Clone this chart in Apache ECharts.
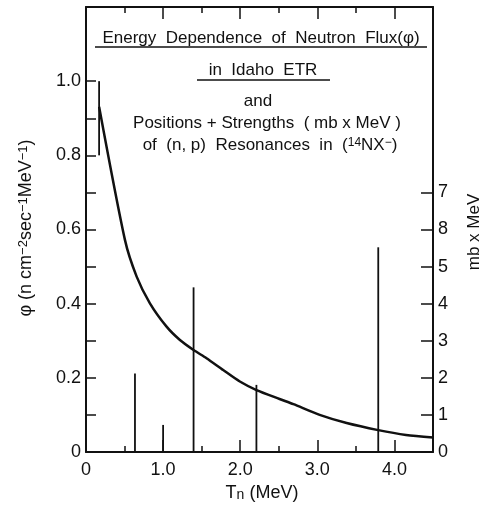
<!DOCTYPE html>
<html>
<head>
<meta charset="utf-8">
<script src="https://cdn.jsdelivr.net/npm/echarts@6/dist/echarts.min.js"></script>
<style>html,body{margin:0;padding:0;background:#fff;}#c{width:484px;height:508px;}</style>
</head>
<body>
<div id="c"></div>
<script>
// ---- data ----
const fluxEnergy = [0.17, 0.505, 0.657, 0.829, 1.045, 1.218, 1.395, 1.563, 1.779, 1.995, 2.211, 2.51, 2.69, 3.03, 3.38, 3.79, 4.15, 4.5];
const fluxValue  = [0.931, 0.572, 0.473, 0.401, 0.338, 0.302, 0.275, 0.253, 0.221, 0.190, 0.167, 0.143, 0.129, 0.100, 0.078, 0.059, 0.046, 0.039];
const markerEnergy = [0.17, 0.17];
const markerFlux = [0.8, 1.0];
const resonanceEnergy = [0.635, 1.0, 1.395, 2.21, 3.79];
const resonanceStrength = [2.12, 0.73, 4.44, 1.81, 5.52];
const xLabelValues = [0, 1, 2, 3, 4];
const xMajorTicks = [1, 2, 3, 4];
const xMinorTicks = [0.5, 1.5, 2.5, 3.5];
const leftLabelValues = [0, 0.2, 0.4, 0.6, 0.8, 1.0];
const leftTickValues = [0.1, 0.2, 0.3, 0.4, 0.5, 0.6, 0.7, 0.8, 0.9, 1.0];
const rightTickValues = [0, 1, 2, 3, 4, 5, 6, 7];
const rightTickLabels = ['0', '1', '2', '3', '4', '5', '8', '7'];

const FONT = 'Liberation Sans';
const INK = '#111';
const chart = echarts.init(document.getElementById('c'));

function xAxisDef(pos, ticks, len, withLine, withLabel) {
  return {
    type: 'value', position: pos, min: 0, max: 4.5,
    axisLine: { show: withLine, onZero: false, lineStyle: { color: INK, width: 2 } },
    axisTick: { show: true, inside: true, length: len, customValues: ticks, lineStyle: { color: INK, width: 1.5 } },
    axisLabel: withLabel ? {
      show: true, customValues: xLabelValues, margin: 9, color: INK, fontFamily: FONT, fontSize: 18,
      formatter: v => v === 0 ? '0' : v.toFixed(1)
    } : { show: false },
    splitLine: { show: false }
  };
}

const option = {
  animation: false,
  backgroundColor: '#fff',
  textStyle: { fontFamily: FONT, color: INK },
  grid: { left: 86, right: 51, top: 7, bottom: 56, containLabel: false },
  xAxis: [
    xAxisDef('bottom', xMajorTicks, 12, true, true),
    xAxisDef('top', xMajorTicks, 12, true, false),
    xAxisDef('bottom', xMinorTicks, 6, false, false),
    xAxisDef('top', xMinorTicks, 6, false, false)
  ],
  yAxis: [
    {
      type: 'value', position: 'left', min: 0, max: 1.2,
      axisLine: { show: true, onZero: false, lineStyle: { color: INK, width: 2 } },
      axisTick: { show: true, inside: true, length: 10, customValues: leftTickValues, lineStyle: { color: INK, width: 1.5 } },
      axisLabel: { customValues: leftLabelValues, margin: 5, color: INK, fontFamily: FONT, fontSize: 18,
        formatter: v => v === 0 ? '0' : v.toFixed(1) },
      splitLine: { show: false }
    },
    {
      type: 'value', position: 'right', min: 0, max: 12,
      axisLine: { show: true, onZero: false, lineStyle: { color: INK, width: 2 } },
      axisTick: { show: true, inside: true, length: 12, customValues: rightTickValues, lineStyle: { color: INK, width: 1.5 } },
      axisLabel: { customValues: rightTickValues, margin: 5, color: INK, fontFamily: FONT, fontSize: 18,
        formatter: v => rightTickLabels[Math.round(v)] },
      splitLine: { show: false }
    }
  ],
  series: [
    {
      type: 'line', xAxisIndex: 0, yAxisIndex: 0, symbol: 'none', smooth: 0.25,
      lineStyle: { color: INK, width: 2.5 },
      data: fluxEnergy.map((x, i) => [x, fluxValue[i]])
    },
    {
      type: 'line', xAxisIndex: 0, yAxisIndex: 0, symbol: 'none',
      lineStyle: { color: INK, width: 1.8 },
      data: markerEnergy.map((x, i) => [x, markerFlux[i]])
    },
    {
      type: 'custom', xAxisIndex: 0, yAxisIndex: 1,
      encode: { x: 0, y: 1 },
      data: resonanceEnergy.map((x, i) => [x, resonanceStrength[i]]),
      renderItem: function (params, api) {
        const p0 = api.coord([api.value(0), 0]);
        const p1 = api.coord([api.value(0), api.value(1)]);
        return { type: 'line', shape: { x1: p0[0], y1: p0[1], x2: p1[0], y2: p1[1] },
          style: { stroke: INK, lineWidth: 1.8 } };
      }
    }
  ],
  graphic: [
    { type: 'text', x: 261, y: 38, style: { text: 'Energy  Dependence  of  Neutron  Flux(φ)', fontFamily: FONT, fontSize: 17, fill: INK, align: 'center', verticalAlign: 'middle' } },
    { type: 'line', shape: { x1: 95, y1: 47, x2: 427, y2: 47 }, style: { stroke: INK, lineWidth: 1.5 } },
    { type: 'text', x: 263, y: 70, style: { text: 'in  Idaho  ETR', fontFamily: FONT, fontSize: 17, fill: INK, align: 'center', verticalAlign: 'middle' } },
    { type: 'line', shape: { x1: 197, y1: 80, x2: 330, y2: 80 }, style: { stroke: INK, lineWidth: 1.5 } },
    { type: 'text', x: 258, y: 101, style: { text: 'and', fontFamily: FONT, fontSize: 17, fill: INK, align: 'center', verticalAlign: 'middle' } },
    { type: 'text', x: 267, y: 123, style: { text: 'Positions + Strengths  ( mb x MeV )', fontFamily: FONT, fontSize: 17, fill: INK, align: 'center', verticalAlign: 'middle' } },
    { type: 'text', x: 270, y: 145, style: {
        text: 'of  (n, p)  Resonances  in  ({sup|14}NX{sup|−})', fontFamily: FONT, fontSize: 17, fill: INK, align: 'center', verticalAlign: 'middle',
        rich: { sup: { fontFamily: FONT, fontSize: 12, fill: INK, verticalAlign: 'top' } } } },
    { type: 'text', x: 26, y: 228, rotation: Math.PI / 2, style: {
        text: 'φ (n cm{sup|−2}sec{sup|−1}MeV{sup|−1})', fontFamily: FONT, fontSize: 18, fill: INK, align: 'center', verticalAlign: 'middle',
        rich: { sup: { fontFamily: FONT, fontSize: 13, fill: INK, verticalAlign: 'top' } } } },
    { type: 'text', x: 474, y: 232, rotation: Math.PI / 2, style: {
        text: 'mb x MeV', fontFamily: FONT, fontSize: 17, fill: INK, align: 'center', verticalAlign: 'middle' } },
    { type: 'text', x: 262, y: 493, style: {
        text: 'T{sub|n} (MeV)', fontFamily: FONT, fontSize: 18, fill: INK, align: 'center', verticalAlign: 'middle',
        rich: { sub: { fontFamily: FONT, fontSize: 14, fill: INK, verticalAlign: 'bottom' } } } }
  ]
};
chart.setOption(option);
</script>
</body>
</html>
